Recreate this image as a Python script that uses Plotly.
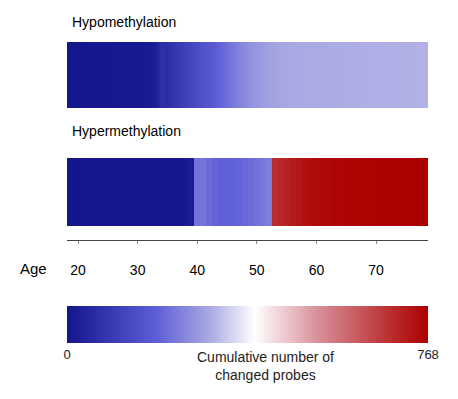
import plotly.graph_objects as go

ages = list(range(18, 80))
hypo = [5, 5, 6, 6, 7, 7, 8, 8, 9, 9, 10, 10, 11, 12, 14, 25,
        70, 60, 80, 95, 110, 125, 140, 155, 170, 185, 200, 215, 230, 245,
        258, 268, 276, 283, 290, 295, 298, 300, 302, 303, 304, 305, 306, 306,
        307, 307, 308, 308, 309, 309, 310, 310, 310, 311, 311, 311, 312, 312,
        312, 313, 313, 313]
hyper = [3, 3, 3, 3, 4, 4, 4, 4, 5, 5, 5, 5, 6, 6, 6, 6, 7, 7, 7, 8, 8, 20,
         220, 225, 210, 200, 195, 195, 197, 200, 205, 210, 220, 230, 238,
         690, 700, 710, 720, 730, 740, 745, 750, 752, 755, 757, 758, 760,
         760, 761, 762, 763, 764, 764, 765, 766, 766, 767, 767, 768, 768, 768]
panel_titles = ["Hypomethylation", "Hypermethylation"]
age_ticks = [20, 30, 40, 50, 60, 70]
cbar_ticks = [0, 768]
cbar_title = "Cumulative number of<br>changed probes"

W, H = 458, 399
def py(p):
    return 1 - p / H

x0, x1 = 67 / W, 428 / W
xrange_ = [18.15, 78.72]
font = "Liberation Sans, Arial, sans-serif"
cscale = [[0, "rgb(20,20,140)"], [0.25, "rgb(95,95,215)"], [0.4, "rgb(172,172,228)"],
          [0.52, "rgb(255,255,255)"], [0.7, "rgb(215,140,150)"], [0.9, "rgb(185,45,45)"],
          [1, "rgb(172,0,0)"]]

fig = go.Figure()
fig.add_trace(go.Heatmap(x=ages, y=[0, 1], z=[hypo, hypo], coloraxis="coloraxis",
                         zsmooth="best", xaxis="x", yaxis="y", hoverinfo="skip"))
fig.add_trace(go.Heatmap(x=ages, y=[0, 1], z=[hyper, hyper], coloraxis="coloraxis",
                         zsmooth=False, xaxis="x2", yaxis="y2", hoverinfo="skip"))

fig.update_layout(
    width=W, height=H,
    margin=dict(l=0, r=0, t=0, b=0),
    paper_bgcolor="white", plot_bgcolor="white",
    font=dict(family=font, color="black", size=13),
    xaxis=dict(domain=[x0, x1], range=xrange_, anchor="y", visible=False),
    yaxis=dict(domain=[py(108), py(42)], range=[-0.5, 1.5], visible=False),
    xaxis2=dict(domain=[x0, x1], range=xrange_, anchor="free", position=py(240),
                showline=True, linecolor="#444", linewidth=1,
                ticks="outside", ticklen=3, tickcolor="#888",
                tickvals=age_ticks, ticktext=[str(a) for a in age_ticks],
                ticklabelstandoff=14, tickfont=dict(size=14),
                showgrid=False, zeroline=False),
    yaxis2=dict(domain=[py(226), py(158)], range=[-0.5, 1.5], visible=False),
    coloraxis=dict(
        cmin=0, cmax=768, colorscale=cscale,
        colorbar=dict(orientation="h", x=x0, xanchor="left",
                      len=x1 - x0, lenmode="fraction", thickness=37,
                      xpad=0, ypad=0,
                      y=py(306), yanchor="top", outlinewidth=0,
                      tickvals=cbar_ticks, ticktext=[str(v) for v in cbar_ticks],
                      ticks="", tickfont=dict(size=13, color="#222")),
    ),
)

fig.add_annotation(text=panel_titles[0], x=70 / W, y=py(22), xref="paper", yref="paper",
                   xanchor="left", yanchor="middle", showarrow=False,
                   font=dict(size=14, color="black"))
fig.add_annotation(text=panel_titles[1], x=70 / W, y=py(131), xref="paper", yref="paper",
                   xanchor="left", yanchor="middle", showarrow=False,
                   font=dict(size=14, color="black"))
fig.add_annotation(text="Age", x=18 / W, y=py(268), xref="paper", yref="paper",
                   xanchor="left", yanchor="middle", showarrow=False,
                   font=dict(size=15, color="black"))
fig.add_annotation(text=cbar_title, x=265 / W, y=py(366), xref="paper", yref="paper",
                   xanchor="center", yanchor="middle", showarrow=False,
                   font=dict(size=14, color="#222"))

fig.write_html("out.html")
